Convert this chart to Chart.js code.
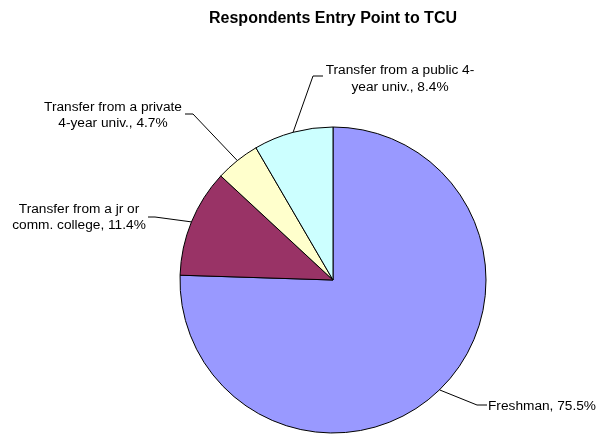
<!DOCTYPE html>
<html>
<head>
<meta charset="utf-8">
<script src="https://cdn.jsdelivr.net/npm/chart.js@4"></script>
<style>
html,body{margin:0;padding:0;background:#fff;}
#wrap{width:613px;height:434px;position:relative;}
</style>
</head>
<body>
<div id="wrap"><canvas id="c" width="613" height="434"></canvas></div>
<script>
const categories = ["Freshman", "Transfer from a jr or comm. college", "Transfer from a private 4-year univ.", "Transfer from a public 4-year univ."];
const values = [75.5, 11.4, 4.7, 8.4];
const labelLines = [
  ["Freshman, 75.5%"],
  ["Transfer from a jr or", "comm. college, 11.4%"],
  ["Transfer from a private", "4-year univ., 4.7%"],
  ["Transfer from a public 4-", "year univ., 8.4%"]
];
const colors = ["#9999FF", "#993366", "#FFFFCC", "#CCFFFF"];
const titleText = "Respondents Entry Point to TCU";

// label layout: text anchor, alignment, elbow points for leader lines
const labelLayout = [
  {x: 488, y: 410, align: "left",   elbow: [[477, 405], [487, 405]]},
  {x: 79,  y: 212.7, align: "center", elbow: [[155, 217], [148, 217]]},
  {x: 113, y: 110.7, align: "center", elbow: [[193, 114], [185, 114]]},
  {x: 400, y: 74,  align: "center", elbow: [[313, 76], [323, 76]]}
];
const FONT = '"Liberation Sans", Arial, sans-serif';

const labelPlugin = {
  id: 'pieLabels',
  afterDraw(chart) {
    const ctx = chart.ctx;
    const meta = chart.getDatasetMeta(0);
    ctx.save();
    // title
    ctx.fillStyle = '#000';
    ctx.font = 'bold 16px ' + FONT;
    ctx.textAlign = 'center';
    ctx.textBaseline = 'alphabetic';
    ctx.fillText(titleText, 333, 23);
    ctx.font = '13.7px ' + FONT;
    ctx.strokeStyle = '#000';
    ctx.lineWidth = 1;
    meta.data.forEach((arc, i) => {
      const p = arc.getProps(['x', 'y', 'startAngle', 'endAngle', 'outerRadius'], true);
      const mid = (p.startAngle + p.endAngle) / 2;
      const ex = p.x + Math.cos(mid) * p.outerRadius;
      const ey = p.y + Math.sin(mid) * p.outerRadius;
      const L = labelLayout[i];
      ctx.beginPath();
      ctx.moveTo(ex, ey);
      L.elbow.forEach(pt => ctx.lineTo(pt[0], pt[1]));
      ctx.stroke();
      ctx.textAlign = L.align;
      labelLines[i].forEach((ln, k) => {
        ctx.fillText(ln, L.x, L.y + k * 16.5);
      });
    });
    ctx.restore();
  }
};

new Chart(document.getElementById('c'), {
  type: 'pie',
  data: {
    labels: categories,
    datasets: [{
      data: values,
      backgroundColor: colors,
      borderColor: '#000',
      borderWidth: 1
    }]
  },
  options: {
    responsive: false,
    animation: false,
    radius: 153,
    layout: {padding: {left: 53, right: 0, top: 126, bottom: 0}},
    plugins: {
      legend: {display: false},
      tooltip: {enabled: false},
      title: {display: false}
    }
  },
  plugins: [labelPlugin]
});
</script>
</body>
</html>
